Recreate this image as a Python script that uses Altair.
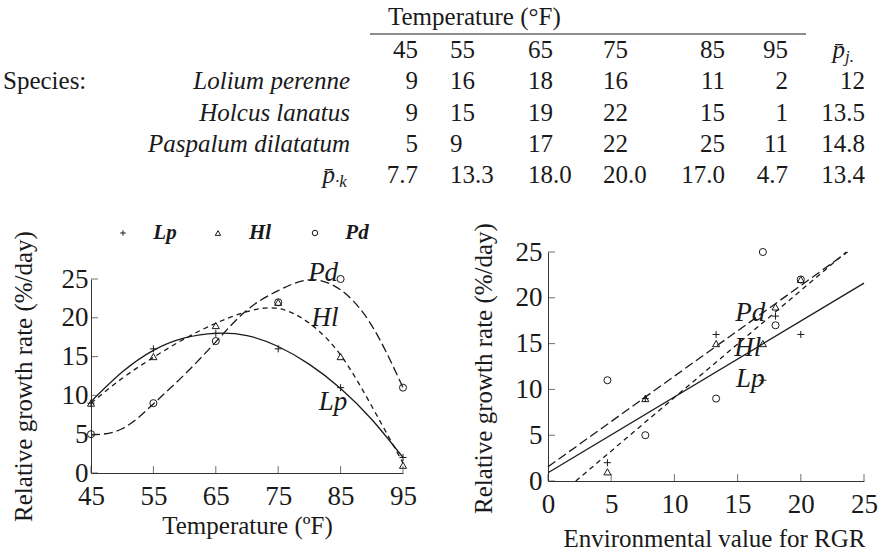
import altair as alt
import pandas as pd

FONT = "Liberation Serif, Times New Roman, Times, serif"
INK = "#1a1a1a"

# ---------------- table values ----------------
temps = [45, 55, 65, 75, 85, 95]
species_names = ["Lolium perenne", "Holcus lanatus", "Paspalum dilatatum"]
species_codes = ["Lp", "Hl", "Pd"]
rgr_lp = [9, 16, 18, 16, 11, 2]
rgr_hl = [9, 15, 19, 22, 15, 1]
rgr_pd = [5, 9, 17, 22, 25, 11]
species_mean_labels = ["12", "13.5", "14.8"]
env_value = [7.7, 13.3, 18.0, 20.0, 17.0, 4.7]
env_value_labels = ["7.7", "13.3", "18.0", "20.0", "17.0", "4.7"]
grand_mean_label = "13.4"

# ---------------- fitted curves of the left panel (read at 5 F steps) ----------------
curve_temp = [45, 50, 55, 60, 65, 70, 75, 80, 85, 90, 95]
curve_lp = [9.2, 13.0, 15.8, 17.4, 18.0, 17.7, 16.3, 14.0, 10.9, 6.9, 2.0]
curve_hl = [9.0, 12.2, 14.9, 17.3, 19.3, 20.8, 21.2, 19.3, 15.2, 8.6, 1.3]
curve_pd = [4.9, 5.7, 8.9, 12.7, 16.9, 21.0, 23.5, 24.9, 23.6, 19.0, 11.0]

# ---------------- fitted straight lines of the right panel (end points) ----------------
line_lp_x = [0, 25]
line_lp_y = [0.9, 21.6]
line_hl_x = [2.2, 23.6]
line_hl_y = [0.0, 25.0]
line_pd_x = [0, 23.7]
line_pd_y = [1.55, 25.0]

# label anchors (data units of each panel)
left_label_t = [82.2, 82.5, 83.8]
left_label_v = [25.8, 20.0, 9.1]
right_label_x = [16.0, 15.8, 16.0]
right_label_v = [18.3, 14.5, 11.1]

left_x_ticks = [45, 55, 65, 75, 85, 95]
y_ticks = [0, 5, 10, 15, 20, 25]
right_x_ticks = [0, 5, 10, 15, 20, 25]

# ---------------- styles / scales ----------------
PLUS = "M-1,0L1,0M0,-1L0,1"
SHAPE = alt.Scale(domain=species_codes, range=[PLUS, "triangle-up", "circle"])

COL = alt.Scale(domain=[-2, -1, 0, 1, 2, 3, 4, 5, 6],
                range=[3, 350, 418, 450, 528, 603, 725, 788, 865], zero=False, nice=False)
ROW = alt.Scale(domain=[0, 1, 2, 3, 4], range=[50, 81, 113, 144, 175], zero=False, nice=False)

LX = alt.Scale(domain=[45, 95], range=[91, 403], zero=False, nice=False)
LY = alt.Scale(domain=[0, 25], range=[473, 279], zero=False, nice=False)
RX = alt.Scale(domain=[0, 25], range=[548, 864], zero=False, nice=False)
RY = alt.Scale(domain=[0, 25], range=[481, 252], zero=False, nice=False)
LEGX = alt.Scale(domain=[0, 1, 2], range=[123, 218, 315], zero=False, nice=False)

TFS = 25  # table font size

# ---------------- table ----------------
cells = []
for c, t in enumerate(temps):
    cells.append(dict(r=0, c=c, txt=str(t)))
for i, vals in enumerate([rgr_lp, rgr_hl, rgr_pd]):
    for c, v in enumerate(vals):
        cells.append(dict(r=i + 1, c=c, txt=str(v)))
    cells.append(dict(r=i + 1, c=6, txt=species_mean_labels[i]))
for c, s in enumerate(env_value_labels):
    cells.append(dict(r=4, c=c, txt=s))
cells.append(dict(r=4, c=6, txt=grand_mean_label))
cells = pd.DataFrame(cells)
LEFT_ALIGNED_COLS = [1, 2, 3]
cells["left"] = cells["c"].isin(LEFT_ALIGNED_COLS)


def tx(df, **mk):
    base = dict(font=FONT, fontSize=TFS, color=INK, baseline="middle")
    base.update(mk)
    return alt.Chart(df).mark_text(**base).encode(
        x=alt.X("c:Q", scale=COL, axis=None),
        y=alt.Y("r:Q", scale=ROW, axis=None),
        text="txt:N",
    )


layers = []
layers.append(tx(cells[~cells["left"]], align="right"))
layers.append(tx(cells[cells["left"]], align="left"))

rowlab = pd.DataFrame({"r": [1, 2, 3], "c": [-1, -1, -1], "txt": species_names})
layers.append(tx(rowlab, align="right", fontStyle="italic"))
layers.append(tx(pd.DataFrame({"r": [1], "c": [-2], "txt": ["Species:"]}), align="left"))

# p-bar symbols (column mean header and row mean label)
pbar = pd.DataFrame({"r": [0, 4], "c": [6, -1], "txt": ["p\u0304", "p\u0304"]})
layers.append(tx(pbar.iloc[[0]], align="right", fontStyle="italic", dx=-20))
layers.append(tx(pbar.iloc[[1]], align="right", fontStyle="italic", dx=-15))
subs = pd.DataFrame({"r": [0, 4], "c": [6, -1], "txt": ["j.", "\u00b7k"]})
layers.append(tx(subs.iloc[[0]], align="left", fontStyle="italic", fontSize=17, dx=-20, dy=7))
layers.append(tx(subs.iloc[[1]], align="left", fontStyle="italic", fontSize=17, dx=-15, dy=7))

# header title + rule
layers.append(
    alt.Chart(pd.DataFrame({"txt": ["Temperature (\u00b0F)"]}))
    .mark_text(font=FONT, fontSize=TFS, color=INK, baseline="middle", align="left")
    .encode(x=alt.value(388), y=alt.value(17), text="txt:N")
)
layers.append(
    alt.Chart(pd.DataFrame({"a": [0]}))
    .mark_rule(color=INK, strokeWidth=1)
    .encode(x=alt.value(370), x2=alt.value(806), y=alt.value(34))
)

# ---------------- left panel ----------------
def left_curve(vals, dash=None):
    kw = dict(color=INK, strokeWidth=1.3, interpolate="natural")
    if dash:
        kw["strokeDash"] = dash
    df = pd.DataFrame({"T": curve_temp, "v": vals})
    return alt.Chart(df).mark_line(**kw).encode(
        x=alt.X("T:Q", scale=LX, axis=None), y=alt.Y("v:Q", scale=LY, axis=None)
    )


layers.append(left_curve(curve_lp))
layers.append(left_curve(curve_hl, [5, 4]))
layers.append(left_curve(curve_pd, [9, 4]))

pts_rows = []
for code, vals in zip(species_codes, [rgr_lp, rgr_hl, rgr_pd]):
    for t, e, v in zip(temps, env_value, vals):
        pts_rows.append(dict(code=code, T=t, env=e, v=v))
pts = pd.DataFrame(pts_rows)

AXC = dict(
    domainColor="#333333", domainWidth=1, ticks=False, tickSize=0, grid=False,
    labelFont=FONT, labelFontSize=27, labelColor=INK, labelFlush=False, labelOverlap=False,
    titleFont=FONT, titleFontSize=25, titleFontWeight="normal", titleColor=INK,
    titleBaseline="middle", titleAlign="center",
)

left_pts = alt.Chart(pts).mark_point(filled=False, color=INK, strokeWidth=1, size=50, opacity=1).encode(
    x=alt.X("T:Q", scale=LX, axis=alt.Axis(
        orient="bottom", offset=-(552 - 473), values=left_x_ticks, labelPadding=10,
        title="Temperature (\u00baF)", titleX=247, titleY=52, **AXC)),
    y=alt.Y("v:Q", scale=LY, axis=alt.Axis(
        orient="left", offset=-91, values=y_ticks, labelPadding=3,
        title="Relative growth rate (%/day)", titleX=-68, titleY=376, titleAngle=270, **AXC)),
    shape=alt.Shape("code:N", scale=SHAPE, legend=None),
)
layers.append(left_pts)

# inward tick marks
layers.append(
    alt.Chart(pd.DataFrame({"t": left_x_ticks, "base": [0] * len(left_x_ticks)}))
    .mark_tick(orient="vertical", size=7, thickness=1, color="#333333", yOffset=-3.5)
    .encode(x=alt.X("t:Q", scale=LX, axis=None), y=alt.Y("base:Q", scale=LY, axis=None))
)
layers.append(
    alt.Chart(pd.DataFrame({"t": y_ticks, "base": [45] * len(y_ticks)}))
    .mark_tick(orient="horizontal", size=7, thickness=1, color="#333333", xOffset=3.5)
    .encode(x=alt.X("base:Q", scale=LX, axis=None), y=alt.Y("t:Q", scale=LY, axis=None))
)

left_lab = pd.DataFrame({"code": species_codes[::-1], "T": left_label_t, "v": left_label_v})
layers.append(
    alt.Chart(left_lab)
    .mark_text(font=FONT, fontSize=27, fontStyle="italic", color=INK, baseline="middle", align="center")
    .encode(x=alt.X("T:Q", scale=LX, axis=None), y=alt.Y("v:Q", scale=LY, axis=None), text="code:N")
)

# legend row
leg = pd.DataFrame({"k": [0, 1, 2], "code": species_codes})
layers.append(
    alt.Chart(leg).mark_point(filled=False, color=INK, strokeWidth=1, size=30, opacity=1).encode(
        x=alt.X("k:Q", scale=LEGX, axis=None), y=alt.value(233),
        shape=alt.Shape("code:N", scale=SHAPE, legend=None))
)
layers.append(
    alt.Chart(leg).mark_text(font=FONT, fontSize=21, fontStyle="italic", fontWeight="bold",
                             color=INK, baseline="middle", align="center", dx=42)
    .encode(x=alt.X("k:Q", scale=LEGX, axis=None), y=alt.value(233), text="code:N")
)

# ---------------- right panel ----------------
def right_line(xs, ys, dash=None):
    kw = dict(color=INK, strokeWidth=1.3)
    if dash:
        kw["strokeDash"] = dash
    df = pd.DataFrame({"x": xs, "y": ys})
    return alt.Chart(df).mark_line(**kw).encode(
        x=alt.X("x:Q", scale=RX, axis=None), y=alt.Y("y:Q", scale=RY, axis=None)
    )


layers.append(right_line(line_lp_x, line_lp_y))
layers.append(right_line(line_hl_x, line_hl_y, [5, 4]))
layers.append(right_line(line_pd_x, line_pd_y, [9, 4]))

right_pts = alt.Chart(pts).mark_point(filled=False, color=INK, strokeWidth=1, size=50, opacity=1).encode(
    x=alt.X("env:Q", scale=RX, axis=alt.Axis(
        orient="bottom", offset=-(552 - 481), values=right_x_ticks, labelPadding=10,
        title="Environmental value for RGR", titleX=714, titleY=57, **AXC)),
    y=alt.Y("v:Q", scale=RY, axis=alt.Axis(
        orient="left", offset=-548, values=y_ticks, labelPadding=6,
        title="Relative growth rate (%/day)", titleX=-65, titleY=368, titleAngle=270, **AXC)),
    shape=alt.Shape("code:N", scale=SHAPE, legend=None),
)
layers.append(right_pts)

layers.append(
    alt.Chart(pd.DataFrame({"t": right_x_ticks, "base": [0] * len(right_x_ticks)}))
    .mark_tick(orient="vertical", size=7, thickness=1, color="#333333", yOffset=-3.5)
    .encode(x=alt.X("t:Q", scale=RX, axis=None), y=alt.Y("base:Q", scale=RY, axis=None))
)
layers.append(
    alt.Chart(pd.DataFrame({"t": y_ticks, "base": [0] * len(y_ticks)}))
    .mark_tick(orient="horizontal", size=7, thickness=1, color="#333333", xOffset=3.5)
    .encode(x=alt.X("base:Q", scale=RX, axis=None), y=alt.Y("t:Q", scale=RY, axis=None))
)

right_lab = pd.DataFrame({"code": species_codes[::-1], "x": right_label_x, "v": right_label_v})
layers.append(
    alt.Chart(right_lab)
    .mark_text(font=FONT, fontSize=27, fontStyle="italic", color=INK, baseline="middle", align="center")
    .encode(x=alt.X("x:Q", scale=RX, axis=None), y=alt.Y("v:Q", scale=RY, axis=None), text="code:N")
)

chart = (
    alt.layer(*layers)
    .resolve_scale(x="independent", y="independent")
    .resolve_axis(x="independent", y="independent")
    .properties(width=885, height=552, padding=0, autosize=alt.AutoSizeParams(type="none"),
                background="white")
    .configure_view(stroke=None)
)

chart.save("out.html", embed_options={"renderer": "svg", "actions": False})
